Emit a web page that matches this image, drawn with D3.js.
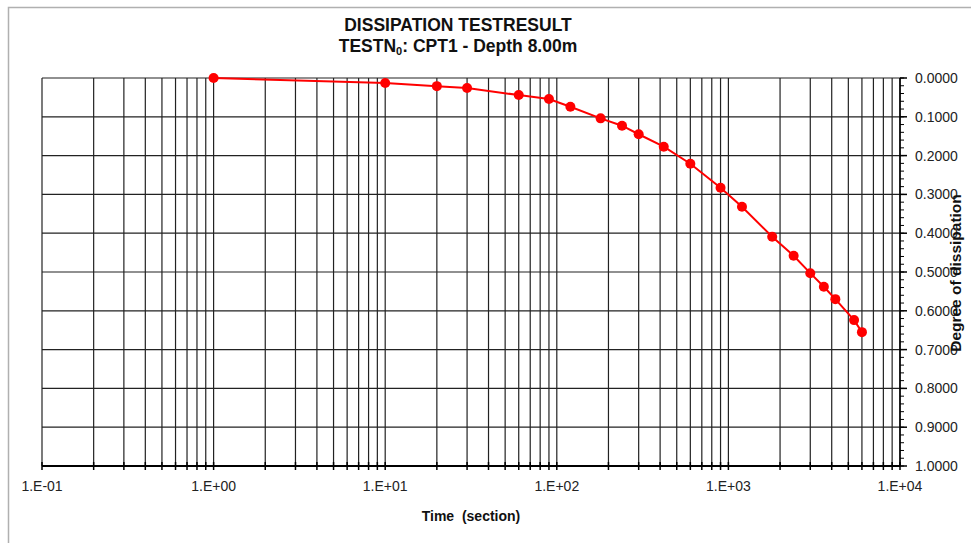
<!DOCTYPE html>
<html>
<head>
<meta charset="utf-8">
<script src="https://d3js.org/d3.v7.min.js"></script>
<style>
  body { margin: 0; background: #fff; }
  text { font-family: "Liberation Sans", Arial, sans-serif; }
</style>
</head>
<body>
<svg id="chart" width="971" height="543"></svg>
<script>
// time (s) and degree of dissipation
var times = [1, 10, 20, 30, 60, 90, 120, 180, 240, 300, 420, 600, 900, 1200, 1800, 2400, 3000, 3600, 4200, 5400, 6000];
var degree = [0, 0.013, 0.021, 0.026, 0.044, 0.054, 0.074, 0.104, 0.123, 0.145, 0.177, 0.221, 0.283, 0.332, 0.409, 0.458, 0.503, 0.538, 0.570, 0.624, 0.655];
var xTickLabels = ["1.E-01", "1.E+00", "1.E+01", "1.E+02", "1.E+03", "1.E+04"];
var yTicks = [0, 0.1, 0.2, 0.3, 0.4, 0.5, 0.6, 0.7, 0.8, 0.9, 1.0];

var svg = d3.select("#chart"),
  margin = { top: 78, right: 71, bottom: 77, left: 42 },
  width = +svg.attr("width") - margin.left - margin.right,
  height = +svg.attr("height") - margin.top - margin.bottom;

// outer frame
svg.append("rect")
  .attr("x", 8.5).attr("y", 7.5)
  .attr("width", 975).attr("height", 545)
  .attr("fill", "none").attr("stroke", "#b0b0b0").attr("stroke-width", 1.5);

var g = svg.append("g").attr("transform", "translate(" + margin.left + "," + margin.top + ")");

var x = d3.scaleLog().domain([0.1, 10000]).range([0, width]);
var y = d3.scaleLinear().domain([0, 1]).range([0, height]);

// all 1..9 x decade positions
var logTicks = [];
[0.1, 1, 10, 100, 1000].forEach(function (d) {
  for (var k = 1; k <= 9; k++) logTicks.push(d * k);
});
logTicks.push(10000);

// grid
g.append("g").selectAll("line").data(logTicks).enter().append("line")
  .attr("x1", function (d) { return x(d); }).attr("x2", function (d) { return x(d); })
  .attr("y1", 0).attr("y2", height)
  .attr("stroke", "#222").attr("stroke-width", 1.2);

g.append("g").selectAll("line").data(yTicks).enter().append("line")
  .attr("x1", 0).attr("x2", width)
  .attr("y1", function (d) { return y(d); }).attr("y2", function (d) { return y(d); })
  .attr("stroke", "#222").attr("stroke-width", 1.2);

// x axis
var xAxis = g.append("g").attr("transform", "translate(0," + height + ")");
xAxis.append("line").attr("x1", 0).attr("x2", width).attr("stroke", "#000").attr("stroke-width", 2);
xAxis.selectAll(".tk").data(logTicks).enter().append("line")
  .attr("x1", function (d) { return x(d); }).attr("x2", function (d) { return x(d); })
  .attr("y1", -4).attr("y2", 4).attr("stroke", "#000").attr("stroke-width", 1.5);
xAxis.selectAll("text").data(xTickLabels).enter().append("text")
  .attr("x", function (d, i) { return x(Math.pow(10, i - 1)); })
  .attr("y", 25)
  .attr("text-anchor", "middle")
  .attr("font-size", 14).attr("fill", "#222")
  .text(function (d) { return d; });

// y axis on the right
var yAxis = g.append("g").attr("transform", "translate(" + width + ",0)");
yAxis.append("line").attr("y1", 0).attr("y2", height).attr("stroke", "#000").attr("stroke-width", 1.5);
var minor = d3.range(0, 1.0001, 0.02);
yAxis.selectAll(".mn").data(minor).enter().append("line")
  .attr("y1", function (d) { return y(d); }).attr("y2", function (d) { return y(d); })
  .attr("x1", 0).attr("x2", 4).attr("stroke", "#000").attr("stroke-width", 1);
yAxis.selectAll(".mj").data(yTicks).enter().append("line")
  .attr("y1", function (d) { return y(d); }).attr("y2", function (d) { return y(d); })
  .attr("x1", 0).attr("x2", 7).attr("stroke", "#000").attr("stroke-width", 1.5);
yAxis.selectAll("text").data(yTicks).enter().append("text")
  .attr("x", 15)
  .attr("y", function (d) { return y(d) + 5; })
  .attr("font-size", 14).attr("fill", "#222")
  .text(function (d) { return d3.format(".4f")(d); });

// series
var line = d3.line()
  .x(function (d, i) { return x(times[i]); })
  .y(function (d) { return y(d); });

g.append("path").datum(degree)
  .attr("d", line)
  .attr("fill", "none").attr("stroke", "#ff0000").attr("stroke-width", 2);

g.selectAll(".pt").data(degree).enter().append("circle")
  .attr("cx", function (d, i) { return x(times[i]); })
  .attr("cy", function (d) { return y(d); })
  .attr("r", 5).attr("fill", "#ff0000");

// titles
var title = svg.append("text").attr("x", 458).attr("y", 31)
  .attr("text-anchor", "middle").attr("font-size", 17.5).attr("font-weight", "bold").attr("fill", "#111");
title.text("DISSIPATION TESTRESULT");
var sub = svg.append("text").attr("x", 458).attr("y", 52)
  .attr("text-anchor", "middle").attr("font-size", 17.5).attr("font-weight", "bold").attr("fill", "#111");
sub.append("tspan").text("TESTN");
sub.append("tspan").attr("font-size", 11).attr("dy", 3).text("0");
sub.append("tspan").attr("dy", -3).text(": CPT1 - Depth 8.00m");

svg.append("text").attr("x", 471).attr("y", 521)
  .attr("text-anchor", "middle").attr("font-size", 14).attr("font-weight", "bold").attr("fill", "#111")
  .attr("xml:space", "preserve")
  .text("Time  (section)");

svg.append("text")
  .attr("transform", "translate(961,273) rotate(-90)")
  .attr("text-anchor", "middle").attr("font-size", 15.5).attr("font-weight", "bold").attr("fill", "#111")
  .text("Degree of dissipation");
</script>
</body>
</html>
